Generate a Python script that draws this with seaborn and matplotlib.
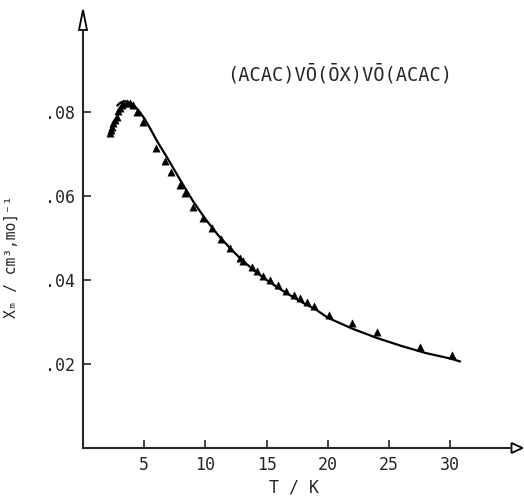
import matplotlib
matplotlib.use("Agg")
import matplotlib.pyplot as plt
from matplotlib.patches import Polygon
import seaborn as sns
import pandas as pd

# Datos medidos (triangulos)
temp_obs = [2.2, 2.25, 2.34, 2.47, 2.6, 2.75, 2.88, 3.0, 3.15, 3.28, 3.56, 3.83, 4.1,
            4.4, 4.9, 6.0, 6.7, 7.2, 7.9, 8.3, 9.0, 9.8, 10.5, 11.3, 12.0, 12.8,
            13.1, 13.8, 14.2, 14.7, 15.3, 15.9, 16.6, 17.2, 17.7, 18.3, 18.9,
            20.1, 22.0, 24.0, 27.5, 30.1]
chi_obs = [0.0749, 0.0757, 0.0765, 0.0773, 0.0781, 0.0789, 0.0801, 0.0809, 0.0817,
           0.0821, 0.0822, 0.0821, 0.0817,
           0.0800, 0.0775, 0.0715, 0.0682, 0.0658, 0.0626, 0.0606, 0.0573, 0.0547,
           0.0523, 0.0497, 0.0475, 0.0453, 0.0444, 0.0431, 0.0421, 0.0409, 0.0400,
           0.0388, 0.0373, 0.0364, 0.0356, 0.0348, 0.0337,
           0.0317, 0.0297, 0.0276, 0.0241, 0.0222]

# Curva ajustada
temp_fit = [2.8, 3.0, 3.3, 3.6, 4.0, 4.5, 5.0, 5.5, 6.0, 7.0, 8.0, 9.0, 10.0, 11.0,
            12.0, 13.0, 14.0, 15.0, 16.0, 17.0, 18.0, 19.0, 20.0, 22.0, 24.0,
            26.0, 28.0, 30.0, 30.8]
chi_fit = [0.0815, 0.0821, 0.0825, 0.0825, 0.0820, 0.0805, 0.0785, 0.0760, 0.0733,
           0.0685, 0.0635, 0.0587, 0.0545, 0.0508, 0.0476, 0.0447, 0.0422, 0.0400,
           0.0380, 0.0362, 0.0345, 0.0330, 0.0310, 0.0284, 0.0262, 0.0243,
           0.0226, 0.0213, 0.0206]

xticks = [5, 10, 15, 20, 25, 30]
yticks = [0.02, 0.04, 0.06, 0.08]
ytick_labels = ['.02', '.04', '.06', '.08']

df_obs = pd.DataFrame({'T': temp_obs, 'chi': chi_obs})
df_fit = pd.DataFrame({'T': temp_fit, 'chi': chi_fit})

sns.set_style('ticks')
plt.rcParams['font.family'] = ['DejaVu Sans Mono', 'DejaVu Sans']

fig = plt.figure(figsize=(5.24, 4.96), dpi=100)
ax = fig.add_axes([83 / 524, 48 / 496, 428.5 / 524, 418 / 496])

sns.lineplot(x='T', y='chi', data=df_fit, ax=ax, color='black', linewidth=1.6,
             estimator=None, sort=True)
sns.scatterplot(x='T', y='chi', data=df_obs, ax=ax, marker='^', color='black',
                s=28, edgecolor='black', linewidth=0.3)

ax.set_xlim(0, 35)
ax.set_ylim(0, 0.0995)
ax.set_xticks(xticks)
ax.set_xticklabels([str(t) for t in xticks])
ax.set_yticks(yticks)
ax.set_yticklabels(ytick_labels)
ax.tick_params(direction='in', length=6, width=1.2, labelsize=12, pad=6)

sns.despine(ax=ax)
for s in ['left', 'bottom']:
    ax.spines[s].set_linewidth(1.5)

# flechas de los ejes
w, h = 428.5, 418.0
ax.add_patch(Polygon([(-4 / w, 1), (4 / w, 1), (0, 1 + 20 / h)], closed=True,
                     transform=ax.transAxes, facecolor='white', edgecolor='black',
                     linewidth=1.3, clip_on=False))
ax.add_patch(Polygon([(1, -5 / h), (1, 5 / h), (1 + 11 / w, 0)], closed=True,
                     transform=ax.transAxes, facecolor='white', edgecolor='black',
                     linewidth=1.3, clip_on=False))

ax.set_xlabel('T / K', fontsize=12)
ax.set_ylabel('X\u2098 / cm³,mo]⁻¹', fontsize=10.5)
ax.xaxis.set_label_coords(0.492, -0.074)
ax.yaxis.set_label_coords(-0.150, 0.457)

ax.text(0.600, 0.895, '(ACAC)VŌ(ŌX)VŌ(ACAC)', transform=ax.transAxes,
        ha='center', va='center', fontsize=13.5)

fig.savefig('out.png', dpi=100)
